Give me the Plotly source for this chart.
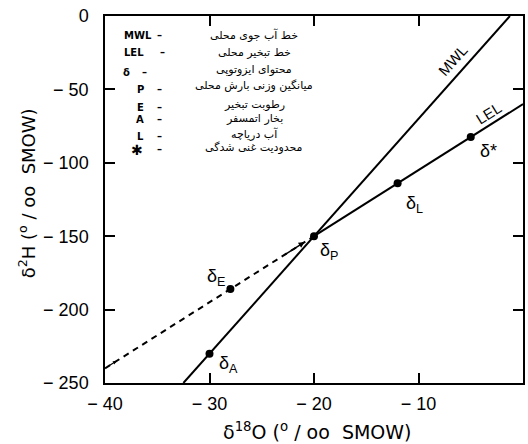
import plotly.graph_objects as go

# ---- data ----
mwl_x = [-32.5, -1.25]
mwl_y = [-250, 0]
lel_x = [-20, 0]
lel_y = [-150, -60]
lel_dash_x = [-40, -20]
lel_dash_y = [-240, -150]
pt_names = ["A", "E", "P", "L", "*"]
pt_x = [-30, -28, -20, -12, -5]
pt_y = [-230, -186, -150, -114, -82.5]
x_ticks = [-40, -30, -20, -10, 0]
x_tick_labels = ["− 40", "− 30", "− 20", "− 10", "0"]
y_ticks = [0, -50, -100, -150, -200, -250]
y_tick_labels = ["0", "− 50", "− 100", "− 150", "− 200", "− 250"]
legend_codes = ["MWL", "LEL", "δ", "P", "E", "A", "L", "✱"]
legend_texts = ["خط آب جوی محلی", "خط تبخیر محلی", "محتوای ایزوتوپی",
                "میانگین وزنی بارش محلی", "رطوبت تبخیر", "بخار اتمسفر",
                "آب دریاچه", "محدودیت غنی شدگی"]

W, H = 528, 444
L, R, T, B = 105, 3, 16, 61
pw, ph = W - L - R, H - T - B

def px(x):
    return (x - L) / pw

def py(y):
    return (H - B - y) / ph

FONT = "Liberation Sans, Arial, sans-serif"
DJ = "DejaVu Sans, sans-serif"
NB = "\u00a0"

def txt_ann(xp, yp, text, size, family=FONT, angle=0, xanchor="center", bold=False):
    return dict(x=px(xp), y=py(yp), xref="paper", yref="paper", text=text,
                showarrow=False, xanchor=xanchor, yanchor="middle", textangle=angle,
                font=dict(family=family, size=size, color="black",
                          weight="bold" if bold else "normal"))

fig = go.Figure()
fig.add_trace(go.Scatter(x=mwl_x, y=mwl_y, mode="lines",
                         line=dict(color="black", width=2), showlegend=False))
fig.add_trace(go.Scatter(x=lel_x, y=lel_y, mode="lines",
                         line=dict(color="black", width=2), showlegend=False))
fig.add_trace(go.Scatter(x=lel_dash_x, y=lel_dash_y, mode="lines",
                         line=dict(color="black", width=2, dash="6px,5px"),
                         showlegend=False))
fig.add_trace(go.Scatter(x=pt_x, y=pt_y, mode="markers",
                         marker=dict(color="black", size=8), showlegend=False))

ann = []
# point labels
lab_pos = {"A": (229, 364), "E": (217, 277), "P": (330, 251), "L": (416, 205), "*": (490, 151)}
for n in pt_names:
    xp, yp = lab_pos[n]
    t = "δ*" if n == "*" else "δ<sub>%s</sub>" % n
    ann.append(txt_ann(xp, yp, t, 18))

# line labels
ann.append(txt_ann(454, 60, "MWL", 15, angle=-48))
ann.append(txt_ann(490, 113, "LEL", 15, angle=-32))

# small arrows on the dashed line
ann.append(dict(x=-20.9, y=-154, ax=-23, ay=-163.5, xref="x", yref="y",
                axref="x", ayref="y", showarrow=True, arrowhead=2,
                arrowsize=0.8, arrowwidth=1.5, arrowcolor="black", text=""))
ann.append(dict(x=-38.9, y=-235, ax=-39.8, ay=-239, xref="x", yref="y",
                axref="x", ayref="y", showarrow=True, arrowhead=2,
                arrowsize=0.6, arrowwidth=1.2, arrowcolor="black", text=""))

# legend block
code_x = [122, 122, 121, 135, 135, 134, 135, 129]
code_y = [35, 52, 72, 90, 107, 119, 136, 150]
code_size = [10, 10, 10, 10, 10, 10, 10, 14]
dash_x = [155, 158, 140, 155, 155, 155, 155, 155]
text_y = [35, 52, 70, 85, 104, 118, 134, 147]
for i in range(len(legend_codes)):
    ann.append(txt_ann(code_x[i], code_y[i], legend_codes[i], code_size[i], family=DJ,
                       xanchor="left", bold=True))
    ann.append(txt_ann(dash_x[i], code_y[i], "–", 10, family=DJ, xanchor="left", bold=True))
    ann.append(txt_ann(255, text_y[i], legend_texts[i], 11, family=DJ))

# axis titles
ann.append(txt_ann(319, 431,
                   "δ<sup>18</sup>O" + NB + "(<sup>o</sup>" + NB + "/" + NB + "oo" + NB + NB + "SMOW)",
                   19, family=DJ))
ann.append(txt_ann(27, 193,
                   "δ<sup>2</sup>H" + NB + "(<sup>o</sup>" + NB + "/" + NB + "oo" + NB + NB + "SMOW)",
                   18, family=DJ, angle=-90))

axis_common = dict(showgrid=False, zeroline=False, showline=True, linecolor="black",
                   linewidth=1.5, mirror="ticks", ticks="inside", ticklen=10,
                   tickwidth=1.5, tickcolor="black",
                   tickfont=dict(family=FONT, size=18, color="black"))

fig.update_layout(
    width=W, height=H, autosize=False,
    margin=dict(l=L, r=R, t=T, b=B),
    paper_bgcolor="white", plot_bgcolor="white",
    xaxis=dict(range=[-40, 0], tickvals=x_ticks, ticktext=x_tick_labels,
               ticklabelstandoff=4, **axis_common),
    yaxis=dict(range=[-250, 0], tickvals=y_ticks, ticktext=y_tick_labels,
               ticklabelstandoff=11, **axis_common),
    annotations=ann, showlegend=False,
)
fig.write_html("out.html", config={"displayModeBar": False},
               post_script="document.body.style.margin='0';")
